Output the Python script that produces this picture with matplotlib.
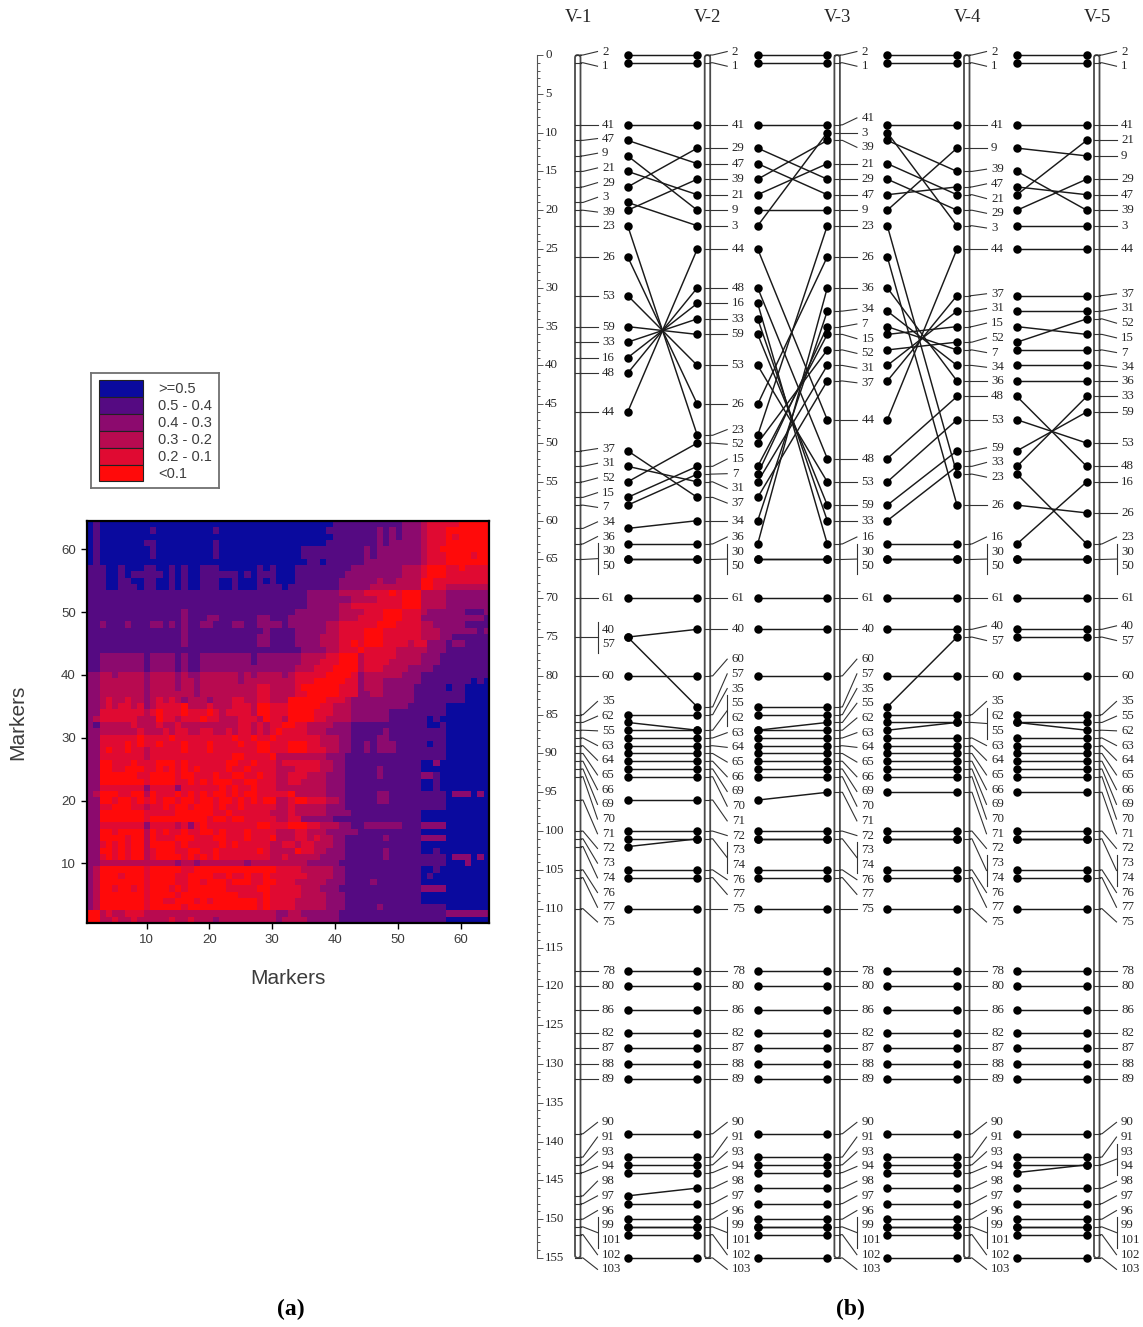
import numpy as np
import matplotlib
matplotlib.use('Agg')
import matplotlib.pyplot as plt
from matplotlib.colors import ListedColormap
from matplotlib.patches import FancyBboxPatch, Rectangle

# LD classes per cell, top row first: 0 = <0.1 ... 5 = >=0.5
ld_rows = [
    '5455555555 5555555555 5555555555 5555555554 4444444444 3332111110 0000',
    '5455555555 4555555555 4555555555 5555555544 4444443434 3332111000 0000',
    '5455555555 5555555555 5555555555 5555555554 4444443434 3332111010 0000',
    '5455555554 4555555555 4555555555 5555555544 4444443433 3332111000 0000',
    '5455555555 4555555555 4555555555 5555444444 4444343333 3332110000 0000',
    '5455555555 4555555555 4555555555 5555444444 4444343333 3332111000 0100',
    '5455555555 5555555555 5555555555 5555544544 4444333333 3332111000 0000',
    '4445545554 4554545544 4555555454 5554444444 4433333333 2221000110 1111',
    '4445545444 4454545544 4444545444 5554444444 4333333333 2221000111 1111',
    '4445544554 4554545544 4554555454 5554444444 3333332332 2220011111 1111',
    '4445544454 4554545544 4554555444 4544444444 3333322222 2220011222 2222',
    '4444444444 4444444444 4444444444 4444433333 2222111101 0002222333 3333',
    '4444444444 4444444444 4444444444 4444433333 3322221111 0002222333 3333',
    '4444444444 4444444444 4444444444 4444433333 2211111111 0002222333 3333',
    '4444444444 4444434444 4444444444 4443333333 2222111000 1112333333 4443',
    '4444444444 4444434443 3444444334 4433333333 2221111000 1113333333 3334',
    '4434443444 3343434433 4443344333 3433333322 1111110001 1112233333 4444',
    '4444444444 4444434444 4444444434 4443333322 1111000111 1112223333 3343',
    '4444444444 4444434444 4444444334 4443333222 1111000111 1112223344 4444',
    '4444444444 4444434444 4444444334 4443333222 1101000111 1211333433 4444',
    '4444444444 4444444444 4444444444 4444333322 1110111112 2222333444 4444',
    '4433333334 3333434433 3333334333 3333222211 0002111112 2223334444 4444',
    '4433333334 3333434433 3333334333 3333222111 0002111122 2223334444 4444',
    '4433333334 3333434433 3333333333 3332221110 0002111222 2333344444 4444',
    '3322322223 2222323322 2222323222 2321111100 0013222222 3334444444 4444',
    '3322222223 2222322322 2222322222 2221110000 0113222333 3334444444 4545',
    '3322222223 2222322322 2222222112 2221000000 1113222333 3344444544 5555',
    '3322222223 2222222322 2222222112 2221100000 1113322333 3344444444 5555',
    '3321221223 2121232223 2221122112 2200000011 1233333333 3344444444 5555',
    '3321211213 2111102221 2221112001 1100000112 2233333333 3444444555 5555',
    '3311111112 1011101110 1211112001 1100001112 2233333344 4444444555 5555',
    '3211111122 2011211101 1222111201 1200001122 2233333344 4444545555 5555',
    '3422222122 2122122222 2222112121 1001122223 3344444444 4444554555 5555',
    '3322222212 2212112211 2212112121 0111122233 3344444344 4444444555 5555',
    '3311111101 1110111111 1110110110 1111111222 3344443344 4444444555 5555',
    '3311110101 1011101110 1111011001 1100011222 3344343334 4444544555 5555',
    '3310110112 1111101110 1111111001 1100011122 3344343334 4444444555 5555',
    '3311111112 1111111111 1110011110 2222222233 3444444444 4444444555 5555',
    '3300111011 1000101111 1100110111 2111111223 3444444444 4445535555 5555',
    '3300110001 1010101011 1101101111 2221111223 3444443444 4445555555 5555',
    '3300000011 0000100111 0110011011 2211122233 3444443444 4443345555 5555',
    '3300000001 0000110101 0001100111 2211222233 3444444444 4445545555 5555',
    '3311111113 1111311111 1010110111 2222222233 3444444444 4445545555 5555',
    '3200011002 0111010101 0010100111 1102222233 3444443344 4444444533 3535',
    '3300100101 0100100100 1001010100 2210011122 3444443344 4444444555 5555',
    '3311000112 1101001000 1011011111 2212222233 3444444444 4444444555 5555',
    '3300000001 1111000000 1101111112 2212222233 3344444444 4445555555 5555',
    '3300000001 0000000001 0010011111 2211333334 4444444444 4445555555 5555',
    '3311111113 1111213101 1111111001 1100011222 3344333333 4443333555 5555',
    '3300100002 0101101100 1011101111 2221122233 3334444444 4445555555 5555',
    '3300001002 0111000111 0011101110 2221121223 3444444344 4443333555 5555',
    '3310101002 0000101111 1010111112 2112112223 3444444444 4445555555 5555',
    '3300101002 1000110011 0111111012 2220112233 3444444344 4445545555 5555',
    '3310101002 1000010101 0111111112 2122222333 3444444344 4444444533 3535',
    '3322222222 2222322322 2222232222 2222233333 4444444444 4444444555 3555',
    '3200000001 0000011000 0000000000 1111222223 3444444444 4445545555 5555',
    '3200010001 0000110000 1101101101 1111122223 3444444444 4445455555 5555',
    '3200000001 0000110010 0010001100 1112222233 3444434444 4445555555 5555',
    '3200100101 0001010000 0011111001 1111222333 4444444444 4443333555 5555',
    '3200000001 0000100000 0000111101 1111222233 3444444444 4445555555 5555',
    '3200000001 0011000101 0000000101 1112222233 3444444444 4445555555 5555',
    '3200000001 0000010000 0000000101 1112222233 3444443444 4444444555 5555',
    '0021221112 2222222222 2222222222 3322333333 4444444444 4444444333 3333',
    '0022122122 2221221222 3222222222 3222233333 4444444444 4444444555 5555',
]
ld_colors = ['#ff0a0a', '#e00a32', '#b80a50', '#8c0a6e', '#550a82', '#0a0a9e']
ld_labels = ['<0.1', '0.2 - 0.1', '0.3 - 0.2', '0.4 - 0.3', '0.5 - 0.4', '>=0.5']

# linkage maps: marker names and positions (cM) of the five versions
v1_names = [2, 1, 41, 47, 9, 21, 29, 3, 39, 23, 26, 53, 59, 33, 16, 48, 44, 37, 31, 52, 15, 7, 34, 36, 30, 50, 61, 40, 57, 60, 35, 62, 55, 63, 64, 65, 66, 69, 70, 71, 72, 73, 74, 76, 77, 75, 78, 80, 86, 82, 87, 88, 89, 90, 91, 93, 94, 98, 97, 96, 99, 101, 102, 103]
v1_pos = [0, 1, 9, 11, 13, 15, 17, 19, 20, 22, 26, 31, 35, 37, 39, 41, 46, 51, 53, 55, 57, 58, 61, 63, 65, 65, 70, 75, 75, 80, 85, 86, 87, 88, 89, 90, 91, 92, 93, 96, 100, 101, 102, 105, 106, 110, 118, 120, 123, 126, 128, 130, 132, 139, 142, 143, 144, 147, 148, 150, 151, 151, 152, 155]
v2_names = [2, 1, 41, 29, 47, 39, 21, 9, 3, 44, 48, 16, 33, 59, 53, 26, 23, 52, 15, 7, 31, 37, 34, 36, 30, 50, 61, 40, 60, 57, 35, 55, 62, 63, 64, 65, 66, 69, 70, 71, 72, 73, 74, 76, 77, 75, 78, 80, 86, 82, 87, 88, 89, 90, 91, 93, 94, 98, 97, 96, 99, 101, 102, 103]
v2_pos = [0, 1, 9, 12, 14, 16, 18, 20, 22, 25, 30, 32, 34, 36, 40, 45, 49, 50, 53, 54, 55, 57, 60, 63, 65, 65, 70, 74, 80, 84, 85, 87, 87, 88, 89, 90, 91, 92, 93, 96, 100, 101, 101, 105, 106, 110, 118, 120, 123, 126, 128, 130, 132, 139, 142, 143, 144, 146, 148, 150, 151, 151, 152, 155]
v3_names = [2, 1, 41, 3, 39, 21, 29, 47, 9, 23, 26, 36, 34, 7, 15, 52, 31, 37, 44, 48, 53, 59, 33, 16, 30, 50, 61, 40, 60, 57, 35, 55, 62, 63, 64, 65, 66, 69, 70, 71, 72, 73, 74, 76, 77, 75, 78, 80, 86, 82, 87, 88, 89, 90, 91, 93, 94, 98, 97, 96, 99, 101, 102, 103]
v3_pos = [0, 1, 9, 10, 11, 14, 16, 18, 20, 22, 26, 30, 33, 35, 36, 38, 40, 42, 47, 52, 55, 58, 60, 63, 65, 65, 70, 74, 80, 84, 85, 86, 87, 88, 89, 90, 91, 92, 93, 95, 100, 101, 101, 105, 106, 110, 118, 120, 123, 126, 128, 130, 132, 139, 142, 143, 144, 146, 148, 150, 151, 151, 152, 155]
v4_names = [2, 1, 41, 9, 39, 47, 21, 29, 3, 44, 37, 31, 15, 52, 7, 34, 36, 48, 53, 59, 33, 23, 26, 16, 30, 50, 61, 40, 57, 60, 35, 62, 55, 63, 64, 65, 66, 69, 70, 71, 72, 73, 74, 76, 77, 75, 78, 80, 86, 82, 87, 88, 89, 90, 91, 93, 94, 98, 97, 96, 99, 101, 102, 103]
v4_pos = [0, 1, 9, 12, 15, 17, 18, 20, 22, 25, 31, 33, 35, 37, 38, 40, 42, 44, 47, 51, 53, 54, 58, 63, 65, 65, 70, 74, 75, 80, 85, 86, 86, 88, 89, 90, 91, 92, 93, 95, 100, 101, 101, 105, 106, 110, 118, 120, 123, 126, 128, 130, 132, 139, 142, 143, 144, 146, 148, 150, 151, 151, 152, 155]
v5_names = [2, 1, 41, 21, 9, 29, 47, 39, 3, 44, 37, 31, 52, 15, 7, 34, 36, 33, 59, 53, 48, 16, 26, 23, 30, 50, 61, 40, 57, 60, 35, 55, 62, 63, 64, 65, 66, 69, 70, 71, 72, 73, 74, 76, 77, 75, 78, 80, 86, 82, 87, 88, 89, 90, 91, 93, 94, 98, 97, 96, 99, 101, 102, 103]
v5_pos = [0, 1, 9, 11, 13, 16, 18, 20, 22, 25, 31, 33, 34, 36, 38, 40, 42, 44, 46, 50, 53, 55, 59, 63, 65, 65, 70, 74, 75, 80, 85, 86, 87, 88, 89, 90, 91, 92, 93, 95, 100, 101, 101, 105, 106, 110, 118, 120, 123, 126, 128, 130, 132, 139, 142, 143, 143, 146, 148, 150, 151, 151, 152, 155]
map_titles = ['V-1', 'V-2', 'V-3', 'V-4', 'V-5']

bad = [i for i, r in enumerate(ld_rows) if len(r.replace(' ', '')) != 64]
assert len(ld_rows) == 64 and not bad, (len(ld_rows), bad)
ld = np.array([[int(c) for c in r.replace(' ', '')] for r in ld_rows])

W, H = 1143, 1327
fig = plt.figure(figsize=(W/100, H/100), dpi=100)
sans = 'Liberation Sans'
serif = 'Liberation Serif'
grey = '#3c3c3c'
ink = '#262626'

# (a) heat map
ax = fig.add_axes([87/W, 1-923/H, 402/W, 402/H])
cmap = ListedColormap(ld_colors)
ax.imshow(ld, cmap=cmap, vmin=-.5, vmax=5.5, extent=(.5, 64.5, .5, 64.5), aspect='auto', interpolation='nearest')
ax.set_xticks(range(10, 61, 10))
ax.set_yticks(range(10, 61, 10))
ax.tick_params(length=4, width=1, labelsize=9.5, labelcolor=grey, pad=4)
for lab in ax.get_xticklabels() + ax.get_yticklabels():
    lab.set_family(sans)
for s in ax.spines.values():
    s.set_linewidth(1.6)
fig.text(288/W, 1-979/H, 'Markers', family=sans, fontsize=15, color=grey, ha='center', va='center')
fig.text(18/W, 1-722/H, 'Markers', family=sans, fontsize=15, color=grey, ha='center', va='center', rotation=90)

# overlay in pixel x, cM y
px_cm = 7.761
ov = fig.add_axes([0, 0, 1, 1])
ov.set_xlim(0, W)
ov.set_ylim((H-55)/px_cm, -55/px_cm)
ov.axis('off')
ov.patch.set_alpha(0)

# legend
lax = fig.add_axes([91/W, 1-488/H, 128/W, 115/H])
lax.set_xlim(91, 219)
lax.set_ylim(488, 373)
lax.set_xticks([])
lax.set_yticks([])
for s in lax.spines.values():
    s.set_linewidth(1.3)
    s.set_color('#707070')
for i, (c, t) in enumerate(zip(ld_colors[::-1], ld_labels[::-1])):
    lax.add_patch(Rectangle((99, 380+i*16.9), 44, 16.9, fc=c, ec='#222222', lw=.8))
    lax.text(158, 389+i*16.9, t, family=sans, fontsize=10.5, color=grey, va='center', ha='left')

# (b) scale
axis_x = 537
for v in range(156):
    ov.plot([axis_x, axis_x+(6 if v % 5 == 0 else 3)], [v, v], color='#555555', lw=.7, solid_capstyle='butt')
    if v % 5 == 0:
        ov.text(545, v, str(v), family=serif, fontsize=9.3, color=ink, va='center', ha='left')
ov.plot([axis_x, axis_x], [0, 155], color='#555555', lw=.8)


def label_positions(pos):
    # push labels apart: worst overlap merges first, clusters centre on their span
    step = 14.7/px_cm
    groups = []
    for p in pos:
        if groups and groups[-1][0] == p:
            groups[-1][1] += 1
        else:
            groups.append([p, 1])
    clusters = [[g[0], g[0], g[1]] for g in groups]
    while True:
        gaps = []
        for a, b in zip(clusters[:-1], clusters[1:]):
            ca, cb = (a[0]+a[1])/2, (b[0]+b[1])/2
            gaps.append((cb-(b[2]-1)*step/2)-(ca+(a[2]-1)*step/2))
        i = int(np.argmin(gaps))
        if gaps[i] >= 13.5/px_cm:
            break
        a, b = clusters[i], clusters[i+1]
        clusters[i:i+2] = [[a[0], b[1], a[2]+b[2]]]
    out = []
    for c in clusters:
        mid = (c[0]+c[1])/2
        out += [mid+(k-(c[2]-1)/2)*step for k in range(c[2])]
    return out


bar_x = [575, 704.7, 834.4, 964, 1094]
maps = [(v1_names, v1_pos), (v2_names, v2_pos), (v3_names, v3_pos), (v4_names, v4_pos), (v5_names, v5_pos)]

for x0, title, (names, pos) in zip(bar_x, map_titles, maps):
    fig.text((x0+3)/W, 1-18/H, title, family=serif, fontsize=13.5, color=ink, ha='center', va='center')
    ov.add_patch(FancyBboxPatch((x0, 0), 5.5, 155, boxstyle='round,pad=0,rounding_size=2.7', mutation_aspect=1/px_cm,
                                fc='white', ec='#4a4a4a', lw=1.3))
    ly = label_positions(pos)
    i = 0
    while i < len(pos):
        ov.plot([x0, x0+5.5], [pos[i], pos[i]], color='#333333', lw=.8)
        txt_x = x0+27
        line_end = x0+22.5
        if i+1 < len(pos) and pos[i+1] == pos[i]:
            mid = (ly[i]+ly[i+1])/2
            ov.plot([x0+5.5, x0+8, line_end], [pos[i], pos[i], mid], color='#333333', lw=.8)
            ov.plot([line_end, line_end], [ly[i]-.55*14.7/px_cm, ly[i+1]+.55*14.7/px_cm], color='#333333', lw=.8)
            ov.text(txt_x, ly[i], str(names[i]), family=serif, fontsize=9.3, color=ink, va='center', ha='left')
            ov.text(txt_x, ly[i+1], str(names[i+1]), family=serif, fontsize=9.3, color=ink, va='center', ha='left')
            i += 2
        else:
            ov.plot([x0+5.5, x0+8, line_end], [pos[i], pos[i], ly[i]], color='#333333', lw=.8)
            ov.text(txt_x, ly[i], str(names[i]), family=serif, fontsize=9.3, color=ink, va='center', ha='left')
            i += 1

# connections between neighbouring maps
dot_x = [(627.7, 697.3), (757.7, 827.3), (887.3, 957), (1017, 1086.7)]
for (xl, xr), (n0, p0), (n1, p1) in zip(dot_x, maps[:-1], maps[1:]):
    right = dict(zip(n1, p1))
    for name, p in zip(n0, p0):
        ov.plot([xl, xr], [p, right[name]], color='#1a1a1a', lw=1.05, zorder=3)
    ov.plot(np.full(len(p0), xl), p0, 'o', color='black', ms=6.1, mew=0, zorder=4)
    ov.plot(np.full(len(p1), xr), p1, 'o', color='black', ms=6.1, mew=0, zorder=4)

fig.text(291/W, 1-1309/H, '(a)', family=serif, fontsize=17, fontweight='bold', ha='center', va='center')
fig.text(850/W, 1-1309/H, '(b)', family=serif, fontsize=17, fontweight='bold', ha='center', va='center')

fig.savefig('out.png', dpi=100)
